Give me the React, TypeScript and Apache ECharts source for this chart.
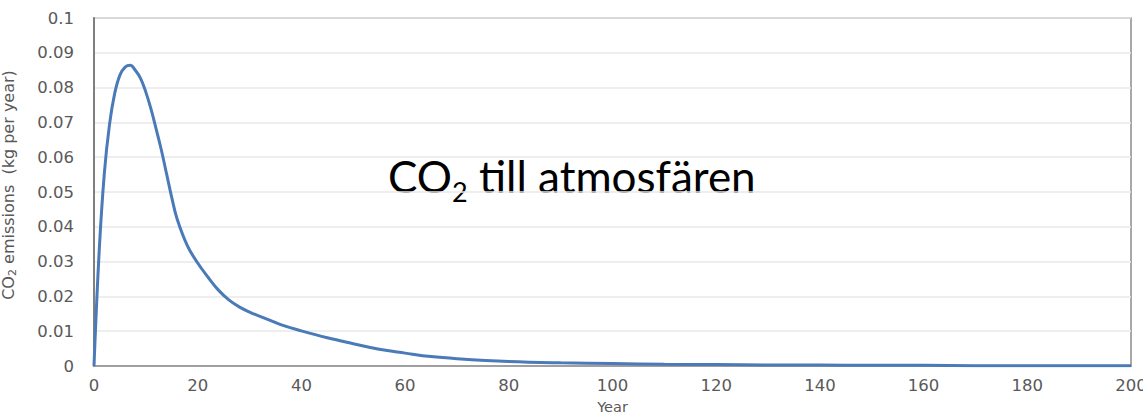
import React, { useEffect, useRef } from "react";
import * as echarts from "echarts";

const years = [0, 1, 2, 3, 4, 5, 6, 7, 8, 9, 10, 11, 12, 13, 14, 15, 16, 18, 20, 22, 24, 26, 28, 30, 33, 36, 40, 45, 50, 55, 60, 65, 70, 80, 90, 100, 110, 120, 130, 140, 150, 160, 170, 180, 190, 200];
const emissions = [0, 0.033, 0.0555, 0.0695, 0.0784, 0.0836, 0.0859, 0.0864, 0.0849, 0.0826, 0.0787, 0.0738, 0.068, 0.062, 0.0552, 0.0484, 0.0424, 0.0346, 0.0296, 0.0255, 0.0218, 0.019, 0.017, 0.0155, 0.0137, 0.0119, 0.0101, 0.0081, 0.0064, 0.0048, 0.0037, 0.0027, 0.0021, 0.0013, 0.0009, 0.0007, 0.0005, 0.0004, 0.0003, 0.0003, 0.0002, 0.0002, 0.0001, 0.0001, 0.0001, 0.0001];
const xTicks = { min: 0, max: 200, interval: 20 };
const yTicks = { min: 0, max: 0.1, interval: 0.01 };
const yAxisTitle = "{a|CO}{s|2}{a| emissions  (kg per year)}";
const xAxisTitle = "Year";
const annotation = "{a|CO}{s|2}{a| till atmosfären}";

export default function App() {
  const ref = useRef<HTMLDivElement>(null);
  useEffect(() => {
    if (!ref.current) return;
    const chart = echarts.init(ref.current, null, { renderer: "svg" });
    const labelColor = "#595959";
    chart.setOption({
      animation: false,
      backgroundColor: "#ffffff",
      grid: {
        left: 94,
        right: 12,
        top: 18,
        bottom: 50,
        show: true,
        borderColor: "#8c8c8c",
        borderWidth: 1.5,
        containLabel: false,
        outerBoundsMode: "none",
      },
      xAxis: {
        type: "value",
        min: xTicks.min,
        max: xTicks.max,
        interval: xTicks.interval,
        name: xAxisTitle,
        nameLocation: "middle",
        nameGap: 33,
        nameTextStyle: { color: labelColor, fontFamily: "DejaVu Sans", fontSize: 14.5 },
        axisLine: { show: true, lineStyle: { color: "#8c8c8c", width: 1.5 } },
        axisTick: { show: false },
        splitLine: { show: false },
        axisLabel: { color: labelColor, fontFamily: "DejaVu Sans", fontSize: 16.5, margin: 11 },
      },
      yAxis: {
        type: "value",
        min: yTicks.min,
        max: yTicks.max,
        interval: yTicks.interval,
        name: yAxisTitle,
        nameLocation: "middle",
        nameGap: 76,
        nameRotate: 90,
        nameTextStyle: {
          color: labelColor,
          padding: [0, 0, 0, 14],
          rich: {
            a: { fontFamily: "DejaVu Sans", fontSize: 16, color: labelColor, lineHeight: 20 },
            s: { fontFamily: "DejaVu Sans", fontSize: 11, color: labelColor, lineHeight: 20, verticalAlign: "bottom" },
          },
        },
        axisLine: { show: true, lineStyle: { color: "#7f7f7f", width: 2 } },
        axisTick: { show: false },
        splitLine: { show: true, lineStyle: { color: "#e8e8e8", width: 1.5 } },
        axisLabel: { color: labelColor, fontFamily: "DejaVu Sans", fontSize: 16.5, margin: 20 },
      },
      graphic: [
        {
          type: "text",
          left: 388,
          top: 154,
          style: {
            text: annotation,
            rich: {
              a: { fontFamily: "Lato", fontSize: 44, fill: "#000000", lineHeight: 58 },
              s: { fontFamily: "Lato", fontSize: 27, fill: "#000000", lineHeight: 58, verticalAlign: "bottom" },
            },
          },
        },
      ],
      series: [
        {
          type: "line",
          data: years.map((y, i) => [y, emissions[i]]),
          smooth: 0.4,
          showSymbol: false,
          lineStyle: { color: "#4a7ab8", width: 3 },
          clip: true,
        },
      ],
    });
    return () => chart.dispose();
  }, []);
  return <div ref={ref} style={{ width: 1143, height: 416, position: "absolute", left: 0, top: 0 }} />;
}
